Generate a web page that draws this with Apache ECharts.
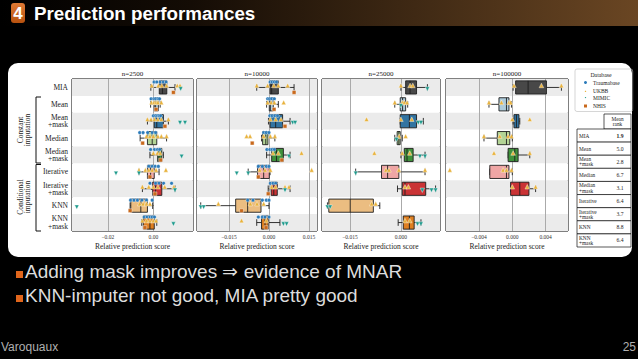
<!DOCTYPE html>
<html><head><meta charset="utf-8">
<script src="https://cdn.jsdelivr.net/npm/echarts@6/dist/echarts.min.js"></script>
<style>html,body{margin:0;padding:0;background:#000}#c{width:638px;height:359px}</style>
</head><body><div id="c"></div>
<script>
// ---------------- DATA ----------------
const methods = ['MIA','Mean','Mean\n+mask','Median','Median\n+mask','Iterative','Iterative\n+mask','KNN','KNN\n+mask'];
const panelTitles = ['n=2500','n=10000','n=25000','n=100000'];
const dbNames = ['Traumabase','UKBB','MIMIC','NHIS'];
const tickValues = [[-0.02,0],[-0.015,0,0.015],[-0.015,0],[-0.004,0,0.004]];
const tickLabels = [['−0.02','0.00'],['−0.015','0.000','0.015'],['−0.015','0.000'],['−0.004','0.000','0.004']];
const xMins = [-0.0357,-0.027,-0.0232,-0.00796];
const xMaxs = [0.0174,0.018,0.0115,0.00669];
const rankMethods = ['MIA','Mean','Mean\n+mask','Median','Median\n+mask','Iterative','Iterative\n+mask','KNN','KNN\n+mask'];
const meanRanks = ['1.9','5.0','2.8','6.7','3.1','6.4','3.7','8.8','6.4'];

// box stats [min, q1, median, q3, max] per method
const boxes_2500 = [
 [-0.0011,0.0026,0.0040,0.0059,0.0095],
 [-0.0012,0.0004,0.0010,0.0022,0.0030],
 [-0.0026,0.0004,0.0015,0.0044,0.0066],
 [-0.0058,-0.0026,-0.0005,0.0015,0.0058],
 [-0.0015,0.0019,0.0025,0.0037,0.0044],
 [-0.0063,-0.0026,-0.0012,0.0004,0.0025],
 [-0.0048,-0.0003,0.0010,0.0037,0.0095],
 [-0.0102,-0.0099,-0.0055,-0.0026,-0.0003],
 [-0.0051,-0.0044,-0.0015,0.0004,0.0015]
];
const boxes_10000 = [
 [-0.0046,0.0004,0.0010,0.0035,0.0094],
 [-0.0009,0.0001,0.0005,0.0016,0.0035],
 [-0.0002,0.0004,0.0025,0.0051,0.0079],
 [-0.0028,-0.0024,-0.0012,-0.0004,0.0022],
 [-0.0009,0.0010,0.0028,0.0054,0.0079],
 [-0.0078,-0.0043,-0.0020,0.0001,0.0004],
 [-0.0003,0.0008,0.0018,0.0031,0.0079],
 [-0.0256,-0.0125,-0.0080,-0.0030,0.0000],
 [-0.0046,-0.0028,-0.0015,-0.0003,0.0041]
];
const boxes_25000 = [
 [0.0000,0.0014,0.0027,0.0046,0.0078],
 [-0.0018,-0.0002,0.0005,0.0014,0.0020],
 [-0.0002,-0.0002,0.0025,0.0046,0.0066],
 [-0.0018,-0.0011,-0.0006,-0.0002,0.0004],
 [0.0000,0.0010,0.0018,0.0036,0.0071],
 [-0.0133,-0.0057,-0.0039,-0.0006,0.0071],
 [-0.0010,0.0004,0.0012,0.0073,0.0102],
 [-0.0216,-0.0212,-0.0149,-0.0081,-0.0062],
 [-0.0008,0.0007,0.0025,0.0039,0.0059]
];
const boxes_100000 = [
 [0.0001,0.0004,0.0019,0.0041,0.0059],
 [-0.0028,-0.0016,-0.0007,-0.0004,-0.0001],
 [0.0001,0.0002,0.0005,0.0008,0.0009],
 [-0.0034,-0.0018,-0.0007,-0.0003,0.0000],
 [-0.0005,-0.0005,0.0003,0.0007,0.0021],
 [-0.0027,-0.0027,-0.0007,-0.0004,0.0000],
 [-0.0002,-0.0002,0.0009,0.0020,0.0028],
 null,
 null
];

// individual scores per database (one list per method)
const trauma_2500 = [
 [0.0003,0.0015,0.0030,0.0044,0.0056],
 [-0.0010,0.0002,0.0010,0.0020,0.0027],
 [0.0000,0.0010,0.0018,0.0025,0.0032],
 [-0.0060,-0.0045,-0.0025,-0.0005,0.0010],
 [-0.0012,0.0005,0.0018,0.0028],
 [-0.0020,-0.0005,0.0008,0.0022],
 [-0.0015,0.0010,0.0025,0.0045,0.0080],
 [-0.0100,-0.0085,-0.0070,-0.0050,-0.0030,-0.0005],
 [-0.0040,-0.0028,-0.0015,-0.0005,0.0005]
];
const ukbb_2500 = [
 [-0.0007,0.0022,0.0037,0.0058,0.0105,0.0117],
 [-0.0008,0.0003,0.0012,0.0020,0.0035],
 [-0.0026,-0.0010,0.0005,0.0020,0.0035,0.0066],
 [-0.0030,-0.0015,0.0000,0.0020,0.0035,0.0058],
 [0.0000,0.0018,0.0030],
 [-0.0063,-0.0035,-0.0020,-0.0005,0.0012,0.0055],
 [-0.0048,-0.0020,0.0000,0.0020,0.0050,0.0090],
 [-0.0060,-0.0045,-0.0030,-0.0015],
 [-0.0048,-0.0030,-0.0015,0.0000,0.0012]
];
const mimic_2500 = [[0.0120],[],[0.0117,0.0139],[],[0.0124],[-0.0164,-0.0063],[0.0095],[-0.0336],[0.0088]];
const nhis_2500 = [[0.0088],[0.0012],[0.0051],[-0.0047],[0.0032],[-0.0015],[0.0007],[-0.0102],[-0.0037]];

const trauma_10000 = [
 [0.0004,0.0012,0.0020,0.0028],
 [-0.0005,0.0002,0.0010,0.0020],
 [0.0003,0.0012,0.0022,0.0032],
 [-0.0020,-0.0010,0.0000],
 [-0.0008,0.0003,0.0012,0.0020],
 [-0.0040,-0.0025,-0.0010,0.0000],
 [0.0005,0.0015,0.0025],
 [-0.0080,-0.0060,-0.0025,-0.0010,0.0000],
 [-0.0040,-0.0025,-0.0015,0.0000]
];
const ukbb_10000 = [
 [-0.0046,-0.0005,0.0018,0.0035,0.0070],
 [-0.0005,0.0008,0.0020,0.0055],
 [0.0005,0.0025,0.0045],
 [-0.0084,-0.0071,-0.0020,0.0005,0.0022],
 [0.0015,0.0035,0.0122],
 [-0.0035,-0.0015,0.0005,0.0160],
 [0.0010,0.0025,0.0060,0.0075],
 [-0.0190,-0.0070,-0.0045,-0.0020],
 [-0.0103,-0.0010]
];
const mimic_10000 = [[],[],[0.0089,0.0098],[],[0.0075],[-0.0121,-0.0078],[0.0060],[-0.0256,-0.0245],[0.0054,0.0066]];
const nhis_10000 = [[0.0094],[0.0019],[0.0060],[-0.0063],[0.0048],[-0.0040],[-0.0003],[-0.0103],[-0.0011]];

const trauma_25000 = [[],[],[],[],[],[],[],[],[]];
const ukbb_25000 = [
 [0.0000,0.0027,0.0035],
 [-0.0018,0.0004,0.0010,0.0018],
 [-0.0101,0.0000,0.0032],
 [-0.0005,0.0014],
 [-0.0078,0.0004,0.0026],
 [-0.0044,-0.0035,-0.0006,0.0071],
 [0.0012,0.0022],
 [-0.0086,-0.0074],
 [0.0012,0.0026]
];
const mimic_25000 = [[0.0078],[0.0000],[0.0051,0.0059],[-0.0013],[0.0056,0.0071],[-0.0133],[0.0063,0.0090,0.0102],[-0.0216,-0.0208],[0.0049,0.0059]];
const nhis_25000 = [[],[],[],[],[],[],[],[],[]];

const trauma_100000 = [[],[],[],[],[],[],[],[],[]];
const ukbb_100000 = [
 [0.0002,0.0035,0.0059],
 [-0.0028,-0.0013,-0.0004,-0.0002],
 [0.0000,0.0021],
 [-0.0034,-0.0015,-0.0005,-0.0001],
 [-0.0022,0.0001,0.0021],
 [-0.0075,-0.0011,-0.0007,-0.0001],
 [0.0000,0.0018,0.0028],
 [],
 []
];
const mimic_100000 = [[],[],[],[],[],[],[],[],[]];
const nhis_100000 = [[],[],[],[],[],[],[],[],[]];

// ---------------- STYLE / LAYOUT ----------------
const boxesAll = [boxes_2500, boxes_10000, boxes_25000, boxes_100000];
const pointsAll = [
 [trauma_2500, ukbb_2500, mimic_2500, nhis_2500],
 [trauma_10000, ukbb_10000, mimic_10000, nhis_10000],
 [trauma_25000, ukbb_25000, mimic_25000, nhis_25000],
 [trauma_100000, ukbb_100000, mimic_100000, nhis_100000]
];
const boxColors = ['#484848','#aeccdb','#3274a1','#b3d495','#3f913b','#efa6a5','#ca3335','#ebbd81','#df7f20'];
const dbColors = ['#2b7bba','#e8b23c','#1d9a8c','#c9691c'];
const dbSymbols = ['circle','triangle','path://M0,0L10,0L5,9Z','rect'];
const dbSizes = [3.6,4.6,4.4,3.8];
const dbOffsets = [-5.5,-2,1.5,5];
const gridLeft = [72,197,322,446];
const gridWidth = [121,120,118,122];
const gridTop = 79, gridHeight = 152;
const SERIF = 'Liberation Serif';
const SANS = 'Liberation Sans';

const chart = echarts.init(document.getElementById('c'), null, {renderer:'svg'});

function renderBox(params, api) {
  const row = api.value(0);
  const v = [1,2,3,4,5].map(k => api.value(k));
  const band = api.size([0,1])[1];
  const h = band * 0.78;
  const yc = api.coord([v[0], row])[1];
  const xs = v.map(val => api.coord([val, row])[0]);
  const edge = '#1e1e1e', lw = 0.9;
  const ls = {stroke: edge, lineWidth: lw};
  return {type:'group', children:[
    {type:'line', shape:{x1:xs[0],y1:yc,x2:xs[1],y2:yc}, style:ls},
    {type:'line', shape:{x1:xs[3],y1:yc,x2:xs[4],y2:yc}, style:ls},
    {type:'line', shape:{x1:xs[0],y1:yc-h/4,x2:xs[0],y2:yc+h/4}, style:ls},
    {type:'line', shape:{x1:xs[4],y1:yc-h/4,x2:xs[4],y2:yc+h/4}, style:ls},
    {type:'rect', shape:{x:xs[1], y:yc-h/2, width:Math.max(xs[3]-xs[1],0.6), height:h}, style:{fill:boxColors[row], stroke:edge, lineWidth:lw}},
    {type:'line', shape:{x1:xs[2],y1:yc-h/2,x2:xs[2],y2:yc+h/2}, style:ls}
  ]};
}

const grids = [], xAxes = [], yAxes = [], series = [];
for (let p = 0; p < 4; p++) {
  grids.push({left:gridLeft[p], top:gridTop, width:gridWidth[p], height:gridHeight, show:true, borderColor:'#000', borderWidth:1, backgroundColor:'transparent'});
  xAxes.push({
    type:'value', gridIndex:p, min:xMins[p], max:xMaxs[p],
    axisLine:{show:false},
    axisTick:{show:false, customValues:tickValues[p]},
    axisLabel:{customValues:tickValues[p], fontSize:5.5, fontFamily:SERIF, color:'#333', margin:3,
      formatter:(val)=>{ const i = tickValues[p].findIndex(t=>Math.abs(t-val)<1e-9); return i>=0 ? tickLabels[p][i] : ''; }},
    splitLine:{show:true, lineStyle:{color:'#aaaaaa', width:1}},
    name:'Relative prediction score', nameLocation:'middle', nameGap:11,
    nameTextStyle:{fontSize:7.5, fontFamily:SERIF, color:'#222'}
  });
  yAxes.push({
    type:'category', gridIndex:p, data:methods, inverse:true,
    axisLine:{show:false},
    axisTick:{show:p===0, length:2.5, alignWithLabel:true, lineStyle:{color:'#111'}},
    axisLabel:{show:p===0, fontSize:7.5, lineHeight:7.5, fontFamily:SERIF, color:'#222', margin:4, align:'right'},
    splitLine:{show:false},
    splitArea:{show:true, areaStyle:{color:['#ebebeb','#ffffff']}}
  });
  const bdata = [];
  boxesAll[p].forEach((b,i)=>{ if (b) bdata.push([i].concat(b)); });
  series.push({type:'custom', xAxisIndex:p, yAxisIndex:p, renderItem:renderBox, data:bdata, encode:{x:[1,2,3,4,5], y:0}, z:3, silent:true});
  for (let d = 0; d < 4; d++) {
    const pts = [];
    pointsAll[p][d].forEach((vals,i)=>vals.forEach(v=>pts.push([v,i])));
    series.push({type:'scatter', name:dbNames[d], xAxisIndex:p, yAxisIndex:p, data:pts,
      symbol:dbSymbols[d], symbolSize:dbSizes[d], symbolOffset:[0,dbOffsets[d]],
      itemStyle:{color:dbColors[d], borderColor:'#ffffff', borderWidth:0.4, opacity:1}, z:5, silent:true});
  }
}

// ---------------- SLIDE DECORATION ----------------
const graphics = [];
// title bar
graphics.push({type:'rect', z:-20, shape:{x:0,y:0,width:638,height:26},
  style:{fill:{type:'linear',x:0,y:0,x2:1,y2:0,colorStops:[{offset:0,color:'#000000'},{offset:0.3,color:'#140c05'},{offset:1,color:'#6a4623'}]}}});
graphics.push({type:'rect', z:-19, shape:{x:11,y:3,width:14,height:20,r:3},
  style:{fill:{type:'linear',x:0,y:0,x2:0,y2:1,colorStops:[{offset:0,color:'#e07a35'},{offset:1,color:'#b8520f'}]}}});
graphics.push({type:'text', z:-18, x:18, y:13.5, style:{text:'4', fill:'#ffffff', font:'bold 17px '+SANS, textAlign:'center', textVerticalAlign:'middle'}});
graphics.push({type:'text', z:-18, x:34, y:13.5, style:{text:'Prediction performances', fill:'#ffffff', font:'bold 18.8px '+SANS, textAlign:'left', textVerticalAlign:'middle'}});
// white panel
graphics.push({type:'rect', z:-20, shape:{x:8,y:63,width:624,height:194,r:10}, style:{fill:'#ffffff'}});
// panel titles
for (let p = 0; p < 4; p++) {
  graphics.push({type:'text', x:gridLeft[p]+gridWidth[p]/2, y:73.5, style:{text:panelTitles[p], fill:'#222', font:'7px '+SERIF, textAlign:'center', textVerticalAlign:'middle'}});
}
// group brackets and labels
graphics.push({type:'polyline', shape:{points:[[41,97],[36,97],[36,163],[41,163]]}, style:{stroke:'#111', lineWidth:1, fill:null}});
graphics.push({type:'polyline', shape:{points:[[41,164.5],[36,164.5],[36,231],[41,231]]}, style:{stroke:'#111', lineWidth:1, fill:null}});
graphics.push({type:'text', x:24, y:130, rotation:Math.PI/2, style:{text:'Constant\nimputation', fill:'#222', font:'7.5px '+SERIF, textAlign:'center', textVerticalAlign:'middle', lineHeight:7.5}});
graphics.push({type:'text', x:24, y:197, rotation:Math.PI/2, style:{text:'Conditional\nimputation', fill:'#222', font:'7.5px '+SERIF, textAlign:'center', textVerticalAlign:'middle', lineHeight:7.5}});
// legend title
graphics.push({type:'text', z:100, x:601, y:75, style:{text:'Database', fill:'#222', font:'5.8px '+SERIF, textAlign:'center', textVerticalAlign:'middle'}});
// rank table
graphics.push({type:'rect', shape:{x:604,y:114,width:27,height:15}, style:{fill:'#fff', stroke:'#111', lineWidth:0.7}});
graphics.push({type:'text', x:617.5, y:121.5, style:{text:'Mean\nrank', fill:'#222', font:'5.3px '+SERIF, textAlign:'center', textVerticalAlign:'middle', lineHeight:5.5}});
const rowH = 118/9;
for (let i = 0; i < 9; i++) {
  const y0 = 129 + i*rowH;
  graphics.push({type:'rect', shape:{x:577,y:y0,width:54,height:rowH}, style:{fill:'#fff', stroke:'#111', lineWidth:0.7}});
  graphics.push({type:'text', x:579, y:y0+rowH/2, style:{text:rankMethods[i], fill:'#222', font:'5.3px '+SERIF, textAlign:'left', textVerticalAlign:'middle', lineHeight:5.3}});
  graphics.push({type:'text', x:620, y:y0+rowH/2, style:{text:meanRanks[i], fill:'#222', font:(i===0?'bold ':'')+'5.6px '+SERIF, textAlign:'center', textVerticalAlign:'middle'}});
}
// bullets
graphics.push({type:'rect', shape:{x:16,y:271,width:7,height:7}, style:{fill:'#e0661c'}});
graphics.push({type:'rect', shape:{x:16,y:295,width:7,height:7}, style:{fill:'#e0661c'}});
graphics.push({type:'text', x:25, y:281, style:{text:'Adding mask improves ⇒ evidence of MNAR', fill:'#dddddd', font:'19px '+SANS, textAlign:'left', textVerticalAlign:'bottom'}});
graphics.push({type:'text', x:25, y:305, style:{text:'KNN-imputer not good, MIA pretty good', fill:'#dddddd', font:'19px '+SANS, textAlign:'left', textVerticalAlign:'bottom'}});
// footer
graphics.push({type:'text', x:1, y:347, style:{text:'Varoquaux', fill:'#b0b0b0', font:'12px '+SANS, textAlign:'left', textVerticalAlign:'middle'}});
graphics.push({type:'text', x:636, y:347, style:{text:'25', fill:'#b0b0b0', font:'12px '+SANS, textAlign:'right', textVerticalAlign:'middle'}});

chart.setOption({
  backgroundColor:'#000000',
  animation:false,
  grid:grids, xAxis:xAxes, yAxis:yAxes, series:series,
  legend:{data:dbNames, orient:'vertical', left:575, top:69, itemWidth:5, itemHeight:5, itemGap:1,
    padding:[10,13,2,7], borderColor:'#bbbbbb', borderWidth:0.6, borderRadius:2,
    selectedMode:false, textStyle:{fontFamily:SERIF, fontSize:5.5, color:'#222'}},
  graphic:{elements:graphics}
});
</script></body></html>
